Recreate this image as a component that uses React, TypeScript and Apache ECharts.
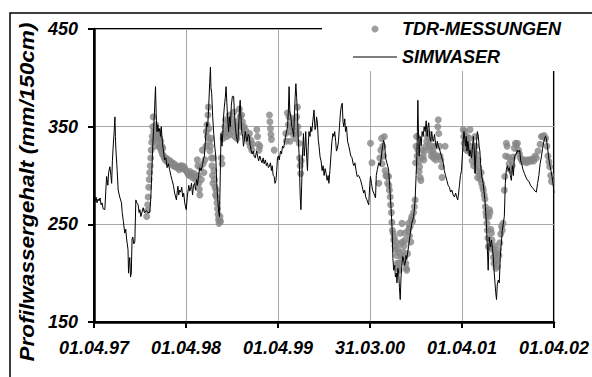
import React, { useEffect, useRef } from "react";
import * as echarts from "echarts";

// x values are days since 01.04.97
const xTickLabels = ["01.04.97", "01.04.98", "01.04.99", "31.03.00", "01.04.01", "01.04.02"];
const yTicks = [150, 250, 350, 450];
const seriesNames = ["TDR-MESSUNGEN", "SIMWASER"];
const yTitle = "Profilwassergehalt (mm/150cm)";

const tdrMeasurements: [number, number][] = [
  [209,258],[211,264],[213,270],[215,278],[217,288],[219,296],[221,303],[223,310],[225,318],[227,326],[229,334],[231,340],[233,350],[235,360],[237,345],[239,336],[241,330],[243,340],[245,352],[247,345],[249,338],[251,342],[253,335],[255,345],[257,340],[259,330],[261,338],[263,328],[265,335],[267,325],[269,330],[271,322],[273,328],[276,320],[279,318],[282,316],[286,318],[290,314],[294,316],[298,313],[302,315],[306,312],[310,313],[314,310],[318,312],[322,309],[326,310],[330,308],[334,309],[338,306],[342,310],[346,308],[350,310],[354,307],[358,309],[362,306],[366,305],[370,303],[374,301],[378,300],[382,304],[386,302],[390,298],[394,300],[398,302],[402,296],[406,299],[410,316],[412,310],[414,300],[416,292],[418,286],[420,280],[422,308],[426,296],[430,326],[433,312],[436,303],[440,316],[444,330],[446,345],[448,352],[450,340],[452,362],[454,370],[456,348],[458,335],[460,325],[462,330],[464,338],[466,318],[468,310],[470,300],[472,292],[474,318],[476,305],[478,296],[480,288],[482,280],[484,285],[486,278],[488,272],[490,266],[492,260],[494,255],[496,251],[498,254],[500,258],[502,253],[505,318],[508,312],[512,338],[516,343],[519,350],[522,357],[525,345],[528,340],[531,355],[534,348],[537,362],[540,342],[543,350],[546,358],[549,345],[552,352],[555,365],[558,340],[561,348],[564,355],[567,338],[570,343],[573,350],[577,368],[580,360],[583,352],[586,362],[589,355],[592,348],[596,350],[599,342],[602,346],[606,338],[610,340],[614,334],[617,343],[620,330],[623,336],[626,326],[629,332],[646,347],[649,340],[652,332],[655,326],[658,330],[696,362],[698,355],[700,348],[702,342],[704,337],[715,326],[761,343],[763,335],[767,364],[771,352],[774,360],[776,345],[778,335],[784,350],[787,358],[790,342],[793,355],[796,345],[800,338],[804,360],[807,370],[809,350],[812,343],[814,333],[816,318],[818,310],[820,302],[822,315],
  [1097,333],[1103,313],[1130,292],[1134,318],[1138,326],[1141,338],[1143,312],[1146,330],[1149,320],[1152,340],[1155,305],[1158,300],[1162,299],[1165,292],
  [1169,299],[1170,290],[1172,285],[1175,278],[1177,270],[1180,262],[1182,252],[1184,244],[1187,241],[1189,234],[1192,237],[1194,228],[1196,224],[1199,232],[1201,218],[1203,210],[1205,225],[1207,205],[1209,210],[1211,203],[1213,220],[1215,241],[1218,230],[1220,215],[1222,251],[1224,232],[1226,222],[1228,217],[1231,228],[1233,241],[1235,234],[1237,210],[1239,205],[1241,203],[1244,220],[1246,243],[1248,251],[1250,246],[1252,238],[1255,248],[1257,232],[1259,255],[1261,258],[1264,253],[1268,262],[1271,268],[1274,275],[1276,313],[1278,330],[1280,340],[1282,320],[1285,326],[1288,314],[1290,304],[1292,309],[1294,298],[1297,295],[1300,318],[1303,326],[1306,320],[1309,316],[1312,325],[1316,330],[1320,335],[1323,340],[1326,343],[1329,330],[1332,336],[1335,325],[1338,320],[1341,330],[1344,325],[1347,318],[1350,322],[1353,330],[1356,316],[1360,320],[1364,350],[1366,357],[1368,343],[1371,330],[1373,320],[1376,316],[1379,309],[1381,298],[1393,330],
  [1465,347],[1467,340],[1469,333],[1471,345],[1473,328],[1476,336],[1478,326],[1480,340],[1483,332],[1486,325],[1489,338],[1492,347],[1494,330],[1497,322],[1500,315],[1503,326],[1506,310],[1509,318],[1512,340],[1514,330],[1516,322],[1518,312],[1520,305],[1522,298],[1524,316],[1527,308],[1530,300],[1533,296],[1536,303],[1538,292],[1542,288],[1545,285],[1548,280],[1551,276],[1553,268],[1555,262],[1557,258],[1559,251],[1561,244],[1563,236],[1565,227],[1567,258],[1569,265],[1571,262],[1574,245],[1577,241],[1579,234],[1581,226],[1583,224],[1585,216],[1587,210],[1589,228],[1591,218],[1593,212],[1595,205],[1597,220],[1599,213],[1601,207],[1604,224],[1607,218],[1610,231],[1614,240],[1617,248],[1620,244],[1623,251],[1628,285],[1630,299],[1633,320],[1636,333],[1639,330],[1643,319],[1647,312],[1651,306],[1655,316],[1659,310],[1663,319],[1668,328],[1672,333],[1676,331],[1680,333],[1684,326],[1688,322],[1692,318],[1696,316],[1700,314],[1705,316],[1710,315],[1715,313],[1720,316],[1725,314],[1730,316],[1735,315],[1740,317],[1745,315],[1750,320],[1755,318],[1762,325],[1770,332],[1775,340],[1780,340],[1786,341],[1792,338],[1797,330],[1801,320],[1805,314],[1808,309],[1812,300],[1815,294]
];

const simwaser: [number, number][] = [
  [4,273],[8,278],[12,272],[16,276],[20,274],[24,277],[28,270],[32,272],[36,266],[43,265],[47,285],[50,299],[55,290],[58,303],[63,309],[67,300],[70,292],[73,315],[76,329],[80,345],[83,360],[85,340],[87,326],[92,305],[96,285],[102,278],[109,272],[112,262],[116,254],[122,241],[126,245],[129,236],[132,230],[135,224],[137,200],[140,212],[142,216],[145,196],[148,200],[151,235],[154,237],[158,230],[162,232],[166,275],[170,272],[175,270],[179,262],[182,265],[186,258],[190,262],[195,267],[200,262],[208,264],[214,262],[221,262],[225,275],[229,300],[233,330],[237,350],[240,365],[244,391],[247,360],[250,345],[253,352],[257,345],[261,348],[264,340],[267,350],[270,338],[273,330],[277,322],[280,316],[285,318],[290,308],[295,312],[300,306],[305,300],[310,295],[315,290],[320,282],[327,275],[330,283],[333,289],[336,280],[340,285],[344,283],[348,288],[352,278],[356,282],[360,272],[366,265],[370,278],[372,282],[376,290],[380,284],[384,288],[387,292],[391,280],[395,290],[399,292],[403,285],[407,296],[411,290],[415,300],[420,308],[425,305],[430,310],[434,316],[438,320],[442,335],[447,354],[451,350],[455,370],[459,395],[462,411],[464,390],[467,384],[471,360],[475,343],[479,330],[483,320],[487,292],[491,275],[495,262],[498,258],[501,300],[504,343],[508,330],[511,343],[514,360],[517,370],[521,380],[524,391],[527,375],[530,360],[534,345],[537,360],[541,350],[545,372],[549,381],[554,381],[557,365],[561,350],[565,340],[570,333],[573,345],[577,367],[580,377],[583,360],[587,343],[590,340],[593,330],[596,335],[600,345],[603,340],[607,335],[612,342],[616,340],[619,332],[623,326],[628,322],[632,325],[636,319],[640,318],[645,325],[649,320],[653,315],[658,320],[662,316],[667,313],[671,318],[675,312],[680,316],[684,310],[688,313],[692,308],[695,309],[700,313],[704,305],[707,310],[711,300],[715,299],[718,292],[722,295],[725,305],[728,318],[732,320],[735,316],[740,325],[744,322],[748,330],[752,328],[756,333],[760,340],[764,345],[768,350],[771,365],[774,391],[777,365],[781,360],[785,350],[789,345],[792,340],[795,360],[798,380],[801,394],[804,380],[807,365],[810,340],[814,320],[818,280],[821,265],[824,290],[827,320],[831,343],[834,320],[837,330],[840,345],[844,318],[847,305],[850,330],[853,345],[857,340],[860,350],[864,345],[868,355],[873,367],[877,347],[880,350],[883,360],[886,355],[890,336],[893,330],[897,319],[901,315],[905,305],[909,310],[913,300],[917,307],[921,302],[925,295],[929,300],[932,292],[936,305],[940,320],[944,335],[948,343],[952,340],[955,345],[959,335],[962,325],[966,328],[970,335],[974,350],[978,365],[982,372],[985,374],[988,355],[991,350],[995,358],[998,345],[1002,350],[1006,335],[1011,330],[1015,325],[1019,320],[1024,318],[1028,312],[1031,310],[1035,313],[1040,305],[1044,299],[1050,300],[1057,296],[1063,290],[1070,282],[1074,285],[1078,278],[1083,275],[1087,272],[1090,270],[1094,290],[1097,299],[1101,292],[1105,285],[1110,282],[1117,277],[1120,300],[1124,306],[1130,313],[1136,310],[1143,326],[1149,336],[1153,332],[1157,318],[1162,313],[1169,306],[1173,290],[1176,278],[1180,260],[1183,244],[1186,215],[1189,203],[1193,208],[1196,196],[1200,200],[1202,190],[1206,205],[1209,200],[1212,185],[1215,173],[1218,195],[1222,210],[1225,217],[1228,215],[1232,208],[1235,210],[1238,218],[1241,214],[1245,222],[1248,227],[1252,235],[1255,241],[1258,246],[1261,251],[1265,255],[1268,258],[1271,265],[1274,275],[1278,300],[1281,319],[1283,345],[1285,377],[1287,350],[1290,320],[1294,340],[1298,330],[1302,345],[1306,340],[1310,350],[1314,345],[1318,356],[1322,340],[1325,350],[1328,354],[1332,340],[1336,335],[1340,345],[1343,338],[1347,335],[1351,342],[1355,333],[1359,328],[1362,335],[1366,330],[1370,328],[1375,323],[1380,318],[1385,314],[1390,305],[1395,300],[1400,295],[1405,290],[1410,288],[1415,283],[1420,285],[1425,280],[1430,278],[1435,282],[1439,278],[1443,275],[1446,280],[1450,290],[1454,300],[1458,305],[1461,318],[1465,336],[1468,345],[1471,338],[1474,330],[1477,340],[1480,325],[1483,335],[1486,330],[1489,320],[1492,326],[1495,322],[1498,318],[1502,330],[1505,340],[1508,330],[1512,302],[1515,320],[1518,335],[1521,345],[1525,340],[1528,330],[1531,325],[1534,312],[1538,300],[1544,292],[1551,275],[1557,251],[1564,203],[1568,237],[1573,227],[1577,234],[1581,225],[1584,217],[1588,200],[1591,190],[1594,180],[1597,173],[1600,188],[1604,193],[1608,190],[1612,217],[1620,244],[1628,258],[1632,292],[1636,306],[1640,310],[1644,305],[1648,308],[1652,300],[1656,295],[1660,310],[1664,300],[1668,318],[1672,322],[1676,322],[1680,326],[1684,324],[1689,326],[1693,315],[1697,312],[1702,306],[1708,302],[1714,298],[1720,295],[1726,294],[1732,290],[1738,288],[1744,286],[1750,284],[1755,283],[1760,292],[1765,300],[1770,312],[1775,319],[1780,328],[1786,336],[1791,340],[1795,338],[1799,330],[1803,320],[1808,312],[1813,305],[1818,298],[1822,290],[1825,282]
];

const FONT = "Liberation Sans, Arial, sans-serif";

export default function App() {
  const ref = useRef<HTMLDivElement>(null);
  useEffect(() => {
    if (!ref.current) return;
    const chart = echarts.init(ref.current, null, { renderer: "svg" });
    const labelStyle = {
      fontFamily: FONT,
      fontSize: 18,
      fontWeight: "bold" as const,
      fontStyle: "italic" as const,
      color: "#000",
    };
    chart.setOption({
      animation: false,
      backgroundColor: "#fff",
      grid: {
        left: 94,
        right: 36,
        top: 29,
        bottom: 55,
        show: true,
        borderColor: "#000",
        borderWidth: 2,
      },
      legend: {
        orient: "vertical",
        left: 322,
        top: 14,
        padding: [6, 20, 5, 31],
        backgroundColor: "#fff",
        itemWidth: 44,
        itemHeight: 7,
        itemGap: 10,
        selectedMode: false,
        textStyle: { ...labelStyle },
        data: [
          { name: seriesNames[0], icon: "circle" },
          { name: seriesNames[1], icon: "path://M0,0L44,0L44,1L0,1Z" },
        ],
      },
      xAxis: {
        type: "value",
        min: 0,
        max: 1825,
        interval: 365,
        axisLine: { lineStyle: { color: "#000", width: 2.5 } },
        axisTick: { show: true, length: 6, lineStyle: { color: "#000", width: 2 } },
        splitLine: { show: true, lineStyle: { color: "#a8a8a8", width: 1 } },
        axisLabel: {
          ...labelStyle,
          margin: 17,
          formatter: (v: number) => xTickLabels[Math.round(v / 365)] ?? "",
        },
      },
      yAxis: {
        type: "value",
        min: yTicks[0],
        max: yTicks[yTicks.length - 1],
        interval: yTicks[1] - yTicks[0],
        axisLine: { show: true, lineStyle: { color: "#000", width: 2.5 } },
        axisTick: { show: true, length: 6, lineStyle: { color: "#000", width: 2 } },
        splitLine: { show: true, lineStyle: { color: "#a8a8a8", width: 1 } },
        axisLabel: { ...labelStyle, margin: 16 },
      },
      graphic: [
        {
          type: "text",
          x: 27,
          y: 192,
          rotation: Math.PI / 2,
          scaleX: 1.13,
          style: {
            text: yTitle,
            fontFamily: FONT,
            fontSize: 20,
            fontWeight: "bold",
            fontStyle: "italic",
            fill: "#000",
            align: "center",
            verticalAlign: "middle",
          },
        },
        {
          type: "rect",
          z: 100,
          shape: { x: 10, y: 13, width: 700, height: 500 },
          style: { fill: "none", stroke: "#000", lineWidth: 1.5 },
          silent: true,
        },
      ],
      series: [
        {
          name: seriesNames[0],
          type: "scatter",
          data: tdrMeasurements,
          symbol: "circle",
          symbolSize: 7,
          itemStyle: { color: "#868686" },
          z: 2,
        },
        {
          name: seriesNames[1],
          type: "line",
          data: simwaser,
          symbol: "none",
          showSymbol: false,
          lineStyle: { color: "#000", width: 1 },
          itemStyle: { color: "#000" },
          z: 3,
        },
      ],
    });
    return () => chart.dispose();
  }, []);
  return (
    <div
      ref={ref}
      style={{ position: "fixed", left: 0, top: 0, width: 592, height: 377 }}
    />
  );
}
